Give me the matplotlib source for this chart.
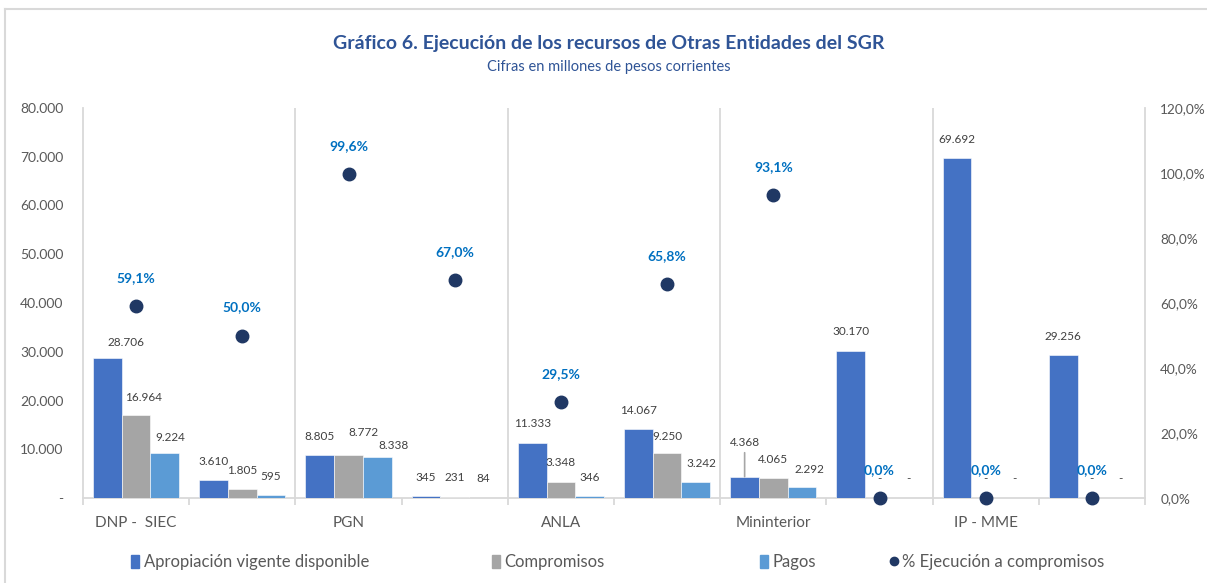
import matplotlib
matplotlib.use("Agg")
import matplotlib.pyplot as plt
from matplotlib.lines import Line2D
from matplotlib.patches import Patch
import numpy as np

# ---------------- data ----------------
categories = ["DNP -  SIEC", "", "PGN", "", "ANLA", "", "Mininterior", "", "IP - MME", ""]
apropiacion = [28706, 3610, 8805, 345, 11333, 14067, 4368, 30170, 69692, 29256]
compromisos = [16964, 1805, 8772, 231, 3348, 9250, 4065, 0, 0, 0]
pagos = [9224, 595, 8338, 84, 346, 3242, 2292, 0, 0, 0]
ejecucion = [59.1, 50.0, 99.6, 67.0, 29.5, 65.8, 93.1, 0.0, 0.0, 0.0]
series_names = ["Apropiación vigente disponible", "Compromisos", "Pagos", "% Ejecución a compromisos"]
title = "Gráfico 6. Ejecución de los recursos de Otras Entidades del SGR"
subtitle = "Cifras en millones de pesos corrientes"

# ---------------- style ----------------
plt.rcParams["font.family"] = ["Lato", "DejaVu Sans"]
C_BLUE = "#4472C4"
C_GREY = "#A5A5A5"
C_LBLUE = "#5B9BD5"
C_DOT = "#203864"
C_PCT = "#0070C0"
C_TXT = "#595959"
C_LINE = "#D9D9D9"
TITLE_C = "#2F5496"

W, H = 1207, 583
fig = plt.figure(figsize=(W / 100, H / 100), dpi=100)
ax = fig.add_axes([83 / W, 1 - 498 / H, (1145 - 83) / W, (498 - 108) / H])

x = np.arange(len(categories))
bw = 0.27
series = [apropiacion, compromisos, pagos]
colors = [C_BLUE, C_GREY, C_LBLUE]
offs = [-bw, 0, bw]


def fmt_num(v):
    return "-" if v == 0 else f"{int(v):,}".replace(",", ".")


# label placement tweaks (pixels), keyed by (category index, series index)
label_dy = {(0, 0): 16, (0, 1): 18, (0, 2): 16, (2, 1): 23, (2, 2): 12, (6, 0): 34,
            (6, 2): 17, (5, 1): 16}
label_dx = {(0, 0): 19, (0, 1): 7, (0, 2): 6, (2, 1): 15, (2, 2): 16, (5, 2): 6, (6, 2): 7}

for si, (vals, col, off) in enumerate(zip(series, colors, offs)):
    ax.bar(x + off, vals, width=bw, color=col, edgecolor="white", linewidth=0.4, zorder=3)
    for ci, v in enumerate(vals):
        dy = label_dy.get((ci, si), 19)
        dx = label_dx.get((ci, si), 0)
        ax.annotate(fmt_num(v), (x[ci] + off, v), xytext=(dx, dy), textcoords="offset pixels",
                    ha="center", va="center", fontsize=8.5, color="#404040", zorder=5)
        if (ci, si) == (6, 0):
            ax.annotate("", (x[ci] + off, v), xytext=(0, dy - 10), textcoords="offset pixels",
                        arrowprops=dict(arrowstyle="-", color="#A6A6A6", lw=1.2, shrinkA=0, shrinkB=0))

ax.set_xlim(-0.5, len(categories) - 0.5)
ax.set_ylim(0, 80000)
ax.set_yticks(np.arange(0, 80001, 10000))
ax.set_yticklabels([fmt_num(v) for v in np.arange(0, 80001, 10000)])
ax.tick_params(axis="y", length=0, pad=14, labelsize=10, labelcolor=C_TXT)

ax.set_xticks(x[::2])
ax.set_xticklabels(categories[::2])
ax.tick_params(axis="x", which="major", length=0, pad=13, labelsize=11, labelcolor=C_TXT)
ax.set_xticks(np.arange(-0.5, len(categories), 1), minor=True)
ax.tick_params(axis="x", which="minor", length=5, width=1.3, color=C_LINE)

for b in np.arange(1.5, len(categories) - 1, 2):
    ax.axvline(b, color=C_LINE, lw=1.3, zorder=1)

for s in ["left", "right", "bottom"]:
    ax.spines[s].set_color(C_LINE)
    ax.spines[s].set_linewidth(1.3)
ax.spines["top"].set_visible(False)

ax2 = ax.twinx()
ax2.set_ylim(0, 120)
ax2.set_yticks(np.arange(0, 121, 20))
ax2.set_yticklabels([f"{v:.1f}%".replace(".", ",") for v in np.arange(0, 121, 20)])
ax2.tick_params(axis="y", length=0, pad=11, labelsize=9.8, labelcolor=C_TXT)
for s in ax2.spines.values():
    s.set_visible(False)
ax2.plot(x, ejecucion, linestyle="none", marker="o", markersize=9, color=C_DOT, clip_on=False, zorder=6)
for ci, v in enumerate(ejecucion):
    ax2.annotate(f"{v:.1f}%".replace(".", ","), (x[ci], v), xytext=(0, 28), textcoords="offset pixels",
                 ha="center", va="center", fontsize=10, fontweight="bold", color=C_PCT, zorder=7)

# titles
fig.text(609 / W, 1 - 44 / H, title, ha="center", va="center", fontsize=14, fontweight="bold", color=TITLE_C)
fig.text(609 / W, 1 - 67 / H, subtitle, ha="center", va="center", fontsize=10.5, color=TITLE_C)

# legend (each entry placed separately)
handles = [Patch(color=C_BLUE), Patch(color=C_GREY), Patch(color=C_LBLUE),
           Line2D([], [], linestyle="none", marker="o", markersize=6, color=C_DOT)]
xpos = [131, 492, 760, 890]
for h, name, xp in zip(handles, series_names, xpos):
    fig.legend([h], [name], loc="center left", bbox_to_anchor=(xp / W, 1 - 562 / H), frameon=False,
               fontsize=12, labelcolor=C_TXT, handlelength=0.5, handleheight=0.8, handletextpad=0.25,
               borderpad=0, borderaxespad=0)

# outer frame lines
fig.add_artist(Line2D([5 / W, 5 / W], [0, 1 - 9 / H], transform=fig.transFigure, color=C_LINE, lw=1.5))
fig.add_artist(Line2D([5 / W, 1], [1 - 9 / H, 1 - 9 / H], transform=fig.transFigure, color=C_LINE, lw=1.5))

fig.savefig("out.png", dpi=100)
